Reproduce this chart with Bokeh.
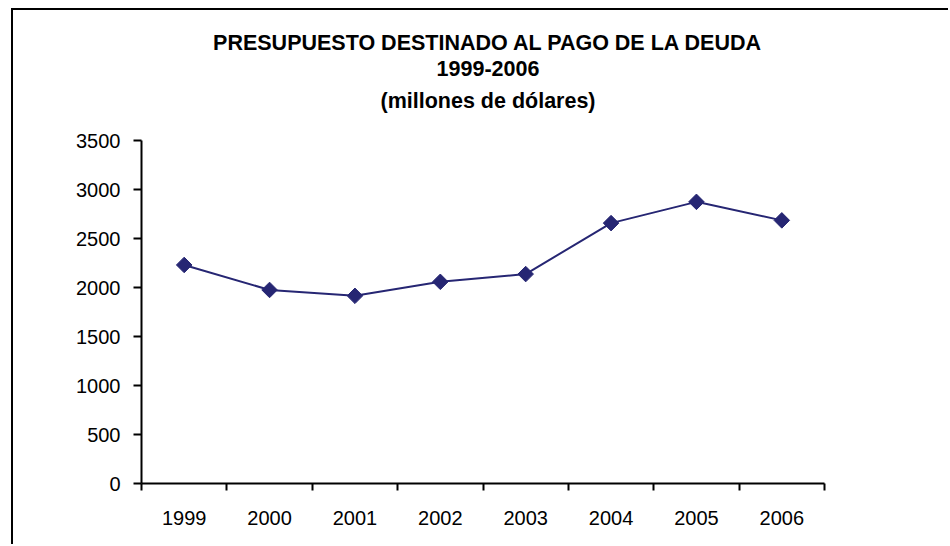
import numpy as np
from bokeh.plotting import figure
from bokeh.models import FixedTicker, Label, ColumnDataSource, Range1d
from bokeh.embed import file_html
from bokeh.resources import INLINE

years = ["1999", "2000", "2001", "2002", "2003", "2004", "2005", "2006"]
values = [2230, 1975, 1915, 2058, 2137, 2657, 2874, 2685]
y_ticks = [0, 500, 1000, 1500, 2000, 2500, 3000, 3500]
title_lines = ["PRESUPUESTO DESTINADO AL PAGO DE LA DEUDA", "1999-2006", "(millones de dólares)"]

FONT = "Liberation Sans"
NAVY = "#262673"

# layout: the frame also holds the title area; the y axis is bounded to 0..3500
FRAME_H = 473      # px from canvas top to the x axis
AXIS_H = 343       # px used by 0..3500
Y_MAX = y_ticks[-1]
y_end = Y_MAX * FRAME_H / AXIS_H

xpos = np.arange(len(years)) + 0.5
src = ColumnDataSource(dict(x=xpos, y=values, year=years))

p = figure(width=937, height=536, output_backend="svg", toolbar_location=None,
           x_range=Range1d(0, len(years)), y_range=Range1d(0, y_end),
           min_border_left=128, min_border_right=126, min_border_top=0, min_border_bottom=63,
           styles={"border-left": "2px solid black", "border-top": "2px solid black",
                   "margin-left": "11px", "margin-top": "8px"})
p.title = None
p.outline_line_color = None
p.xgrid.grid_line_color = None
p.ygrid.grid_line_color = None
p.background_fill_color = "white"
p.border_fill_color = "white"

# title lines, positioned in screen units relative to the plot frame
title_y = [441, 415, 383]
for t, ty in zip(title_lines, title_y):
    p.add_layout(Label(x=346.5, y=ty, x_units="screen", y_units="screen", text=t,
                       text_align="center", text_baseline="middle",
                       text_font=FONT, text_font_size="21.5px",
                       text_font_style="bold", text_color="black"))

# x axis: labels at category centers, ticks at boundaries
xa = p.xaxis[0]
xa.ticker = FixedTicker(ticks=list(xpos), minor_ticks=list(range(len(years) + 1)))
xa.major_label_overrides = {float(x): y for x, y in zip(xpos, years)}
xa.major_tick_line_color = None
xa.major_tick_out = 0
xa.major_tick_in = 0
xa.minor_tick_line_color = "black"
xa.minor_tick_line_width = 2
xa.minor_tick_out = 7
xa.minor_tick_in = 0
xa.axis_line_color = "black"
xa.axis_line_width = 2
xa.major_label_text_font = FONT
xa.major_label_text_font_size = "20px"
xa.major_label_text_color = "black"
xa.major_label_standoff = 20

ya = p.yaxis[0]
ya.ticker = FixedTicker(ticks=y_ticks)
ya.bounds = (0, Y_MAX)
ya.minor_tick_line_color = None
ya.major_tick_out = 8
ya.major_tick_in = 0
ya.major_tick_line_width = 2
ya.axis_line_width = 2
ya.axis_line_color = "black"
ya.major_label_text_font = FONT
ya.major_label_text_font_size = "20px"
ya.major_label_text_color = "black"
ya.major_label_standoff = 13

p.line("x", "y", source=src, line_color=NAVY, line_width=2)
p.scatter("x", "y", source=src, marker="square", size=11, angle=np.pi / 4,
          fill_color=NAVY, line_color=NAVY)

open("out.html", "w").write(file_html(p, INLINE))
